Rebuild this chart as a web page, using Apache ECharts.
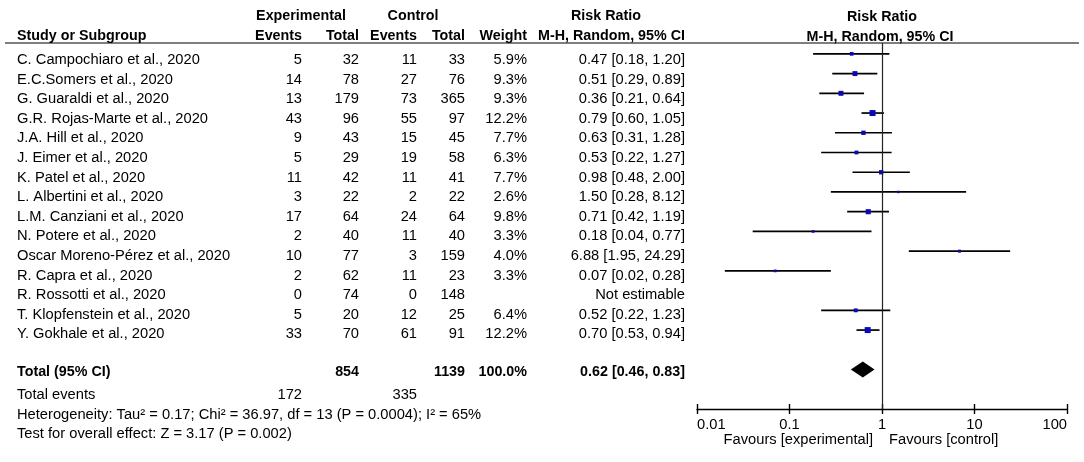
<!DOCTYPE html>
<html>
<head>
<meta charset="UTF-8">
<title>Forest plot - Risk Ratio</title>
<script src="https://cdn.jsdelivr.net/npm/echarts@6/dist/echarts.min.js"></script>
<style>
    html, body { margin: 0; background: #fff; }
    #main { width: 1084px; height: 462px; }
</style>
</head>
<body>
<div id="main"></div>
<script>
// study rows
var studies = [
    'C. Campochiaro et al., 2020', 'E.C.Somers et al., 2020', 'G. Guaraldi et al., 2020',
    'G.R. Rojas-Marte et al., 2020', 'J.A. Hill et al., 2020', 'J. Eimer et al., 2020',
    'K. Patel et al., 2020', 'L. Albertini et al., 2020', 'L.M. Canziani et al., 2020',
    'N. Potere et al., 2020', 'Oscar Moreno-Pérez et al., 2020', 'R. Capra et al., 2020',
    'R. Rossotti et al., 2020', 'T. Klopfenstein et al., 2020', 'Y. Gokhale et al., 2020'
];
var expEvents  = [5, 14, 13, 43, 9, 5, 11, 3, 17, 2, 10, 2, 0, 5, 33];
var expTotal   = [32, 78, 179, 96, 43, 29, 42, 22, 64, 40, 77, 62, 74, 20, 70];
var ctrlEvents = [11, 27, 73, 55, 15, 19, 11, 2, 24, 11, 3, 11, 0, 12, 61];
var ctrlTotal  = [33, 76, 365, 97, 45, 58, 41, 22, 64, 40, 159, 23, 148, 25, 91];
var weights    = [5.9, 9.3, 9.3, 12.2, 7.7, 6.3, 7.7, 2.6, 9.8, 3.3, 4.0, 3.3, null, 6.4, 12.2];
var rr         = [0.47, 0.51, 0.36, 0.79, 0.63, 0.53, 0.98, 1.50, 0.71, 0.18, 6.88, 0.07, null, 0.52, 0.70];
var ciLow      = [0.18, 0.29, 0.21, 0.60, 0.31, 0.22, 0.48, 0.28, 0.42, 0.04, 1.95, 0.02, null, 0.22, 0.53];
var ciHigh     = [1.20, 0.89, 0.64, 1.05, 1.28, 1.27, 2.00, 8.12, 1.19, 0.77, 24.29, 0.28, null, 1.23, 0.94];

// pooled result
var totalExp = 854, totalCtrl = 1139, totalWeight = 100.0;
var totalRR = 0.62, totalLow = 0.46, totalHigh = 0.83;
var totalEventsExp = 172, totalEventsCtrl = 335;
var heterogeneityText = 'Heterogeneity: Tau² = 0.17; Chi² = 36.97, df = 13 (P = 0.0004); I² = 65%';
var overallText = 'Test for overall effect: Z = 3.17 (P = 0.002)';

var TOTAL_ROW = 16;

var FAMILY = '"Liberation Sans", Arial, sans-serif';
var FONT = '14.7px ' + FAMILY;
var BOLD = 'bold 14.3px ' + FAMILY;

function fmt2(v) { return v.toFixed(2); }

function txt(str, x, y, align, bold) {
    return {
        type: 'text', silent: true,
        style: {
            text: String(str), x: x, y: y,
            textAlign: align || 'left', textVerticalAlign: 'middle',
            font: bold ? BOLD : FONT, fill: '#000'
        }
    };
}

// column right edges of the table
var colX = { name: 17, expE: 302, expT: 359, ctlE: 417, ctlT: 465, wt: 527, rr: 685 };

function rowY(i) { return 60 + i * 19.6; }

var texts = [];
// headers
texts.push(txt('Experimental', 301, 16, 'center', true));
texts.push(txt('Control', 413, 16, 'center', true));
texts.push(txt('Risk Ratio', 606, 16, 'center', true));
texts.push(txt('Risk Ratio', 882, 17, 'center', true));
texts.push(txt('Study or Subgroup', colX.name, 36, 'left', true));
texts.push(txt('Events', colX.expE, 36, 'right', true));
texts.push(txt('Total', colX.expT, 36, 'right', true));
texts.push(txt('Events', colX.ctlE, 36, 'right', true));
texts.push(txt('Total', colX.ctlT, 36, 'right', true));
texts.push(txt('Weight', colX.wt, 36, 'right', true));
texts.push(txt('M-H, Random, 95% CI', colX.rr, 36, 'right', true));
texts.push(txt('M-H, Random, 95% CI', 880, 37, 'center', true));

studies.forEach(function (s, i) {
    var y = rowY(i);
    texts.push(txt(s, colX.name, y, 'left'));
    texts.push(txt(expEvents[i], colX.expE, y, 'right'));
    texts.push(txt(expTotal[i], colX.expT, y, 'right'));
    texts.push(txt(ctrlEvents[i], colX.ctlE, y, 'right'));
    texts.push(txt(ctrlTotal[i], colX.ctlT, y, 'right'));
    if (weights[i] != null) texts.push(txt(weights[i].toFixed(1) + '%', colX.wt, y, 'right'));
    var rrLabel = rr[i] == null ? 'Not estimable'
        : fmt2(rr[i]) + ' [' + fmt2(ciLow[i]) + ', ' + fmt2(ciHigh[i]) + ']';
    texts.push(txt(rrLabel, colX.rr, y, 'right'));
});

// totals and footer
texts.push(txt('Total (95% CI)', colX.name, 372, 'left', true));
texts.push(txt(totalExp, colX.expT, 372, 'right', true));
texts.push(txt(totalCtrl, colX.ctlT, 372, 'right', true));
texts.push(txt(totalWeight.toFixed(1) + '%', colX.wt, 372, 'right', true));
texts.push(txt(fmt2(totalRR) + ' [' + fmt2(totalLow) + ', ' + fmt2(totalHigh) + ']', colX.rr, 372, 'right', true));
texts.push(txt('Total events', colX.name, 395, 'left'));
texts.push(txt(totalEventsExp, colX.expE, 395, 'right'));
texts.push(txt(totalEventsCtrl, colX.ctlE, 395, 'right'));
texts.push(txt(heterogeneityText, colX.name, 415, 'left'));
texts.push(txt(overallText, colX.name, 434, 'left'));
texts.push(txt('Favours [experimental]', 873, 440, 'right'));
texts.push(txt('Favours [control]', 889, 440, 'left'));

// header rule
texts.push({
    type: 'line', silent: true,
    shape: { x1: 5, y1: 43, x2: 1079, y2: 43 },
    style: { stroke: '#000', lineWidth: 1.2 }
});

var studyData = [];
studies.forEach(function (s, i) {
    if (rr[i] != null) studyData.push([rr[i], ciLow[i], ciHigh[i], i, weights[i]]);
});

var logAxisBase = {
    type: 'log', logBase: 10, min: 0.01, max: 100,
    gridIndex: 0, position: 'bottom',
    splitLine: { show: false }
};

var option = {
    backgroundColor: '#fff',
    animation: false,
    graphic: { elements: texts },
    grid: { left: 697, right: 17, top: 43, bottom: 53 },
    xAxis: [
        Object.assign({}, logAxisBase, {
            axisLine: { show: true, onZero: false, lineStyle: { color: '#000', width: 1.4 } },
            axisTick: { show: true, length: 5, lineStyle: { color: '#000', width: 1.4 } },
            axisLabel: {
                show: true, margin: 8, color: '#000',
                fontFamily: FAMILY, fontSize: 14.7,
                alignMinLabel: 'left', alignMaxLabel: 'right',
                formatter: function (v) { return String(parseFloat(Number(v).toPrecision(3))); }
            }
        }),
        Object.assign({}, logAxisBase, {
            axisLine: { show: false, onZero: false },
            axisTick: { show: true, inside: true, length: 5, lineStyle: { color: '#000', width: 1.4 } },
            axisLabel: { show: false }
        })
    ],
    yAxis: {
        type: 'value', inverse: true, min: -0.55, max: 18,
        show: false, splitLine: { show: false }
    },
    series: [
        {
            type: 'custom',
            coordinateSystem: 'cartesian2d',
            xAxisIndex: 0,
            data: studyData,
            encode: { x: [0, 1, 2], y: 3 },
            renderItem: function (params, api) {
                var y = api.value(3);
                var p0 = api.coord([api.value(1), y]);
                var p1 = api.coord([api.value(2), y]);
                var c = api.coord([api.value(0), y]);
                var s = 1.5 + 4.5 * api.value(4) / 12.2;
                return {
                    type: 'group',
                    children: [
                        { type: 'line', shape: { x1: p0[0], y1: p0[1], x2: p1[0], y2: p1[1] },
                          style: { stroke: '#000', lineWidth: 1.7 } },
                        { type: 'rect', shape: { x: c[0] - s / 2, y: c[1] - s / 2, width: s, height: s },
                          style: { fill: '#0a0ab4' } }
                    ]
                };
            },
            markLine: {
                silent: true, symbol: 'none', label: { show: false },
                lineStyle: { color: '#222', width: 1.2, type: 'solid' },
                data: [{ xAxis: 1 }]
            }
        },
        {
            type: 'custom',
            coordinateSystem: 'cartesian2d',
            xAxisIndex: 0,
            data: [[totalRR, totalLow, totalHigh, TOTAL_ROW]],
            encode: { x: [0, 1, 2], y: 3 },
            renderItem: function (params, api) {
                var y = api.value(3);
                var l = api.coord([api.value(1), y]);
                var r = api.coord([api.value(2), y]);
                var c = api.coord([api.value(0), y]);
                var h = 8;
                return {
                    type: 'polygon',
                    shape: { points: [[l[0], l[1]], [c[0], c[1] - h], [r[0], r[1]], [c[0], c[1] + h]] },
                    style: { fill: '#000' }
                };
            }
        }
    ]
};

var chart = echarts.init(document.getElementById('main'));
chart.setOption(option);
</script>
</body>
</html>
